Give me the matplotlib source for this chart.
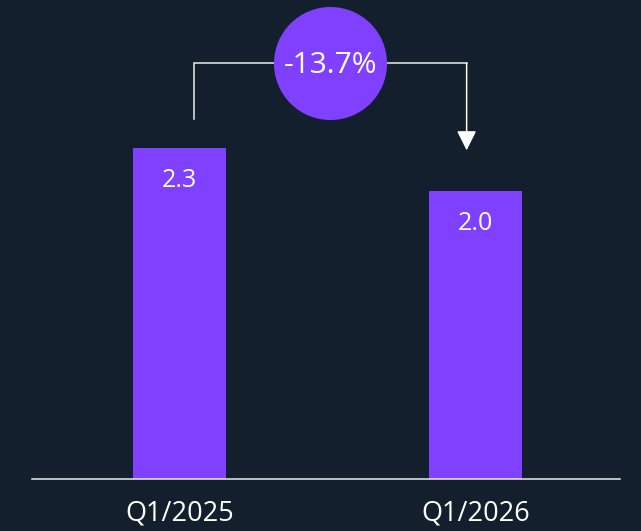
import matplotlib
matplotlib.use("Agg")
import matplotlib.pyplot as plt

# Data
categories = ["Q1/2025", "Q1/2026"]
values = [2.3, 2.0]
change_label = "-13.7%"

BG = "#141f2e"
PURPLE = "#8040ff"
LINE = "#ececec"

plt.rcParams["font.family"] = ["Open Sans", "DejaVu Sans"]

fig = plt.figure(figsize=(6.41, 5.31), dpi=100, facecolor=BG)
ax = fig.add_axes([32 / 641, 52 / 531, 588 / 641, 479 / 531])
ax.set_facecolor(BG)

x = list(range(len(categories)))
ax.bar(x, values, width=0.314, color=PURPLE, zorder=2)

for xi, v in zip(x, values):
    ax.annotate(f"{v:.1f}", xy=(xi, v), xytext=(0, -23), textcoords="offset points",
                ha="center", va="center", color="white", fontsize=18)

ax.set_xlim(-0.498, 1.488)
ax.set_ylim(0, 3.33)
ax.set_xticks(x)
ax.set_xticklabels(categories, color="white", fontsize=19.5)
ax.tick_params(axis="x", length=0, pad=15)
ax.set_yticks([])
for s in ["top", "right", "left"]:
    ax.spines[s].set_visible(False)
ax.spines["bottom"].set_color(LINE)
ax.spines["bottom"].set_linewidth(1.1)

# Change bracket with arrow
x_left = x[0] + 0.05
x_right = x[1] - 0.03
y_top = 2.89
ax.plot([x_left, x_left, x_right], [values[0] + 0.2, y_top, y_top],
        color=LINE, lw=1.1, zorder=3, solid_joinstyle="miter")
ax.annotate("", xy=(x_right, values[1] + 0.285), xytext=(x_right, y_top),
            arrowprops=dict(arrowstyle="-|>,head_length=0.6,head_width=0.3",
                            mutation_scale=20, color="white", lw=1.1,
                            shrinkA=0, shrinkB=0), zorder=3)

x_mid = 0.51
ax.plot([x_mid], [y_top], marker="o", markersize=81.4, color=PURPLE,
        markeredgewidth=0, zorder=4, clip_on=False)
ax.text(x_mid, y_top - 0.015, change_label, ha="center", va="center",
        color="white", fontsize=21.5, zorder=5)

fig.savefig("out.png", dpi=100, facecolor=BG)
